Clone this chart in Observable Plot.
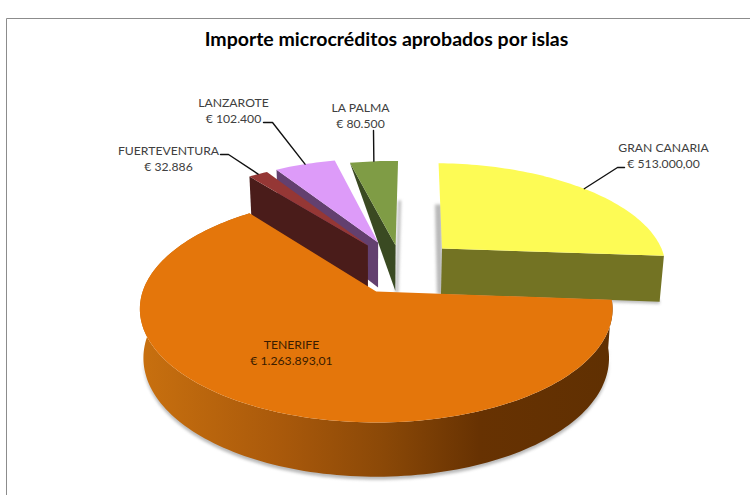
<!DOCTYPE html>
<html lang="es">
<head>
<meta charset="utf-8">
<script src="https://cdn.jsdelivr.net/npm/d3@7"></script>
<script src="https://cdn.jsdelivr.net/npm/@observablehq/plot@0.6"></script>
<style>html,body{margin:0;padding:0;background:#fff}svg{display:block}</style>
</head>
<body>
<div id="chart"></div>
<script>
// --- Datos ---
const titulo = "Importe microcréditos aprobados por islas";
const islas = ["GRAN CANARIA", "TENERIFE", "FUERTEVENTURA", "LANZAROTE", "LA PALMA"];
const importes = [513000, 1263893.01, 32886, 102400, 80500];
const rotulos = ["€ 513.000,00", "€ 1.263.893,01", "€ 32.886", "€ 102.400", "€ 80.500"];

// --- Estilo ---
const colorTapa = ["#fdfb55", "#e4760b", "#953735", "#dd9bf9", "#7f9c45"];
const colorLado = ["#737323", "url(#ladoTenerife)", "#4a1c1a", "#63406f", "#3a4a22"];

// --- Geometría de la vista (tarta 3D en perspectiva) ---
const W = 750, H = 495;
const giro = 1.5 * Math.PI / 180;
const cx = 375, cy = 291, R = 233.5, S = 110.7, k = 0.155;
// desplazamiento de cada porción en el plano del disco
const separacion = [[0.303, 0.413], [0.003, 0], [-0.035, 0.445], [0.012, 0.475], [0.092, 0.443]];
// ubicación de rótulos y codos de las guías
const sitios = [
  {x: 663, y: 154, linea: [[624, 167], [617, 167]]},
  {x: 291, y: 351, linea: null},
  {x: 168, y: 157, linea: [[220, 154], [228, 154]]},
  {x: 233, y: 109, linea: [[263, 122], [272, 122]]},
  {x: 360, y: 114, linea: [[373, 130]]}
];

const arcos = d3.pie().sort(null).startAngle(giro).endAngle(giro + 2 * Math.PI)(importes);

function proy(theta, r, sep) {
  const u = r * Math.sin(theta) + sep[0], v = r * Math.cos(theta) + sep[1];
  const w = 1 + k * v;
  return {x: cx + R * u / w, y: cy - S * v / w, w};
}
const abajo = p => ({x: cx + (p.x - cx) * 0.985, y: p.y + (46 - 40 * (p.w - 1.05))});
function arco(a, sep) {
  const n = Math.max(3, Math.ceil((a.endAngle - a.startAngle) * 40));
  return d3.range(n + 1).map(i => proy(a.startAngle + (a.endAngle - a.startAngle) * i / n, 1, sep));
}
const tapa = (a, sep) => [proy(0, 0, sep), ...arco(a, sep)];

const figura = (pts, fill, extra = {}) =>
  Plot.line(pts, {x: "x", y: "y", fill, stroke: "none", ...extra});
const sombra = (pts, op = 0.55) =>
  figura(pts, "#808080", {fillOpacity: op, imageFilter: "blur(1.5px)"});

const [GC, TF, FV, LZ, LP] = arcos;
const sGC = separacion[0], sTF = separacion[1], sFV = separacion[2], sLZ = separacion[3], sLP = separacion[4];

const defsGradiente = () => {
  const defs = d3.create("svg:defs");
  const g = defs.append("linearGradient").attr("id", "ladoTenerife")
    .attr("gradientUnits", "userSpaceOnUse")
    .attr("x1", 140).attr("x2", 611).attr("y1", 0).attr("y2", 0);
  [[0, "#c8700f"], [0.3, "#a9590b"], [0.52, "#8a4807"], [0.72, "#673202"], [1, "#603002"]]
    .forEach(([o, c]) => g.append("stop").attr("offset", o).attr("stop-color", c));
  return defs.node();
};

// Cara radial: esquina exterior, punta, y sus proyecciones inferiores
const caraRadial = (theta, sep) => {
  const e = proy(theta, 1, sep), c = proy(0, 0, sep);
  return [e, c, abajo(c), abajo(e)];
};

// Cuerpo de Tenerife: borde superior y borde inferior
const bordeTF = arco(TF, sTF);
const cuerpoTF = [...bordeTF, ...bordeTF.map(abajo).reverse()];
const sombraTF = bordeTF.filter(p => p.y > 300).map(abajo).map(p => ({x: p.x, y: p.y + 3}));

// Cara de La Palma: triángulo visible
const puntaLP = proy(0, 0, sLP);
const caraLP = [proy(LP.startAngle, 1, sLP), puntaLP, abajo(puntaLP)];
const bordeLP = proy(LP.endAngle, 1, sLP);

// Cara frontal de Gran Canaria
const caraGC = caraRadial(GC.endAngle, sGC);
const puntaGC = proy(0, 0, sGC);

// Líneas guía
const guias = arcos.map((a, i) => {
  const l = sitios[i].linea;
  if (!l) return [];
  return [...l.map(([x, y]) => ({x, y})), proy((a.startAngle + a.endAngle) / 2, 1, separacion[i])]
    .map(p => ({x: p.x, y: p.y, isla: islas[i]}));
}).flat();

const etiquetas = islas.map((isla, i) => ({x: sitios[i].x, y: sitios[i].y, texto: isla + "\n" + rotulos[i], i}));

const plot = Plot.plot({
  width: W, height: H, margin: 0,
  x: {domain: [0, W], range: [0, W], axis: null},
  y: {domain: [0, H], range: [0, H], axis: null},
  style: {background: "#fff"},
  marks: [
    defsGradiente,
    // marco
    Plot.line([{x: W, y: 18}, {x: 6, y: 18}, {x: 6, y: H}], {x: "x", y: "y", stroke: "#8c8c8c", strokeWidth: 1}),
    // sombras traseras
    sombra([{x: bordeLP.x, y: 200}, {x: bordeLP.x + 3, y: 200}, {x: abajo(puntaLP).x + 3, y: abajo(puntaLP).y + 2}, {x: abajo(puntaLP).x, y: abajo(puntaLP).y + 2}]),
    sombra([{x: puntaGC.x - 7, y: 204}, {x: puntaGC.x, y: 204}, {x: puntaGC.x + 1, y: abajo(puntaGC).y}, {x: puntaGC.x - 5, y: abajo(puntaGC).y}]),
    // La Palma
    figura(caraLP, colorLado[4]),
    figura(tapa(LP, sLP), colorTapa[4]),
    // Lanzarote
    figura(caraRadial(LZ.startAngle, sLZ), colorLado[3]),
    figura(tapa(LZ, sLZ), colorTapa[3]),
    // Fuerteventura
    figura(caraRadial(FV.startAngle, sFV), colorLado[2]),
    figura(tapa(FV, sFV), colorTapa[2]),
    // Gran Canaria
    sombra(caraGC.slice(2).map(p => ({x: p.x, y: p.y + 2})).concat(caraGC.slice(2).reverse().map(p => ({x: p.x, y: p.y - 2})))),
    figura(caraGC, colorLado[0]),
    figura(tapa(GC, sGC), colorTapa[0]),
    // Tenerife
    sombra(sombraTF.concat(sombraTF.map(p => ({x: p.x, y: p.y - 6})).reverse())),
    figura(cuerpoTF, colorLado[1]),
    figura(tapa(TF, sTF), colorTapa[1]),
    // guías
    Plot.line(guias, {x: "x", y: "y", z: "isla", stroke: "#111", strokeWidth: 1.4}),
    // rótulos
    Plot.text(etiquetas, {
      x: "x", y: "y", text: "texto", fontFamily: "Lato, 'Open Sans', sans-serif", fontSize: 12.2, lineHeight: 1.33,
      fill: d => d.i === 1 ? "#3a1c00" : "#404040"
    }),
    Plot.text([titulo], {
      x: [386], y: [39], fontFamily: "Lato, 'Open Sans', sans-serif", fontSize: 19.5, fontWeight: 700, fill: "#000"
    })
  ]
});
document.getElementById("chart").append(plot);
</script>
</body>
</html>
